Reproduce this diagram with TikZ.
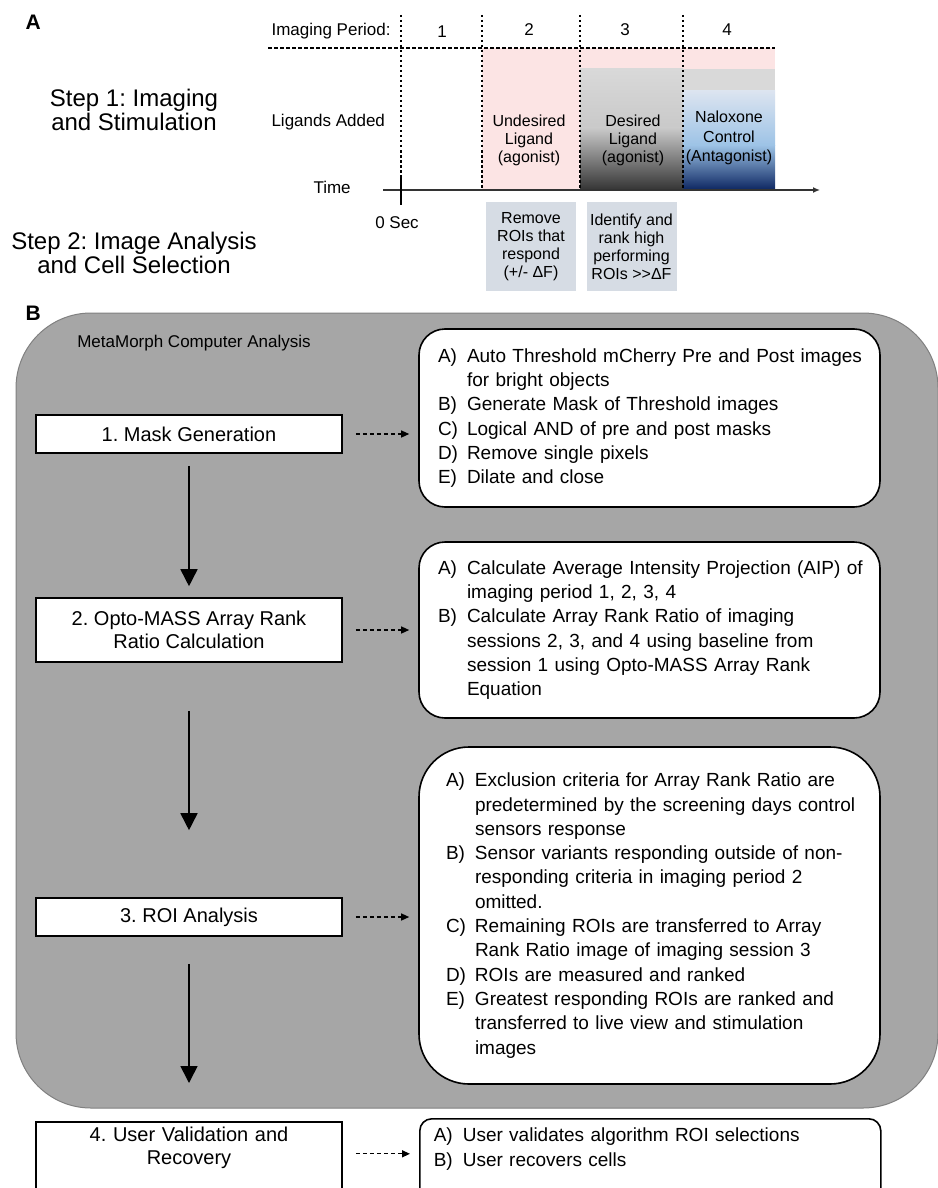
\documentclass[tikz,border=0pt]{standalone}
\usepackage{fontspec}
\setmainfont{Liberation Sans}
\usetikzlibrary{arrows.meta}

\definecolor{pinkfill}{HTML}{FCE4E4}
\definecolor{bandgray}{HTML}{D9D9D9}
\definecolor{lightgray}{HTML}{C9C9C9}
\definecolor{darkgray}{HTML}{333333}
\definecolor{paleblue}{HTML}{DCE4F0}
\definecolor{skyblue}{HTML}{9DC3E6}
\definecolor{navy}{HTML}{0B2460}
\definecolor{roifill}{HTML}{D6DCE4}
\definecolor{panelgray}{HTML}{A6A6A6}

\newcommand{\lbitem}[2]{\mbox{\makebox[29pt][l]{#1}#2}}
\newcommand{\lbcont}[1]{\mbox{\hspace*{29pt}#1}}

\begin{document}
\frenchspacing
\begin{tikzpicture}[x=1pt,y=-1pt,
    bigtxt/.style={font=\fontsize{24}{24.5}\selectfont, align=center},
    medtxt/.style={font=\fontsize{17}{19}\selectfont},
    smtxt/.style={font=\fontsize{16}{18}\selectfont, align=center},
    roibox/.style={smtxt, fill=roifill, minimum width=90pt, minimum height=89pt, inner sep=0pt},
    stepbox/.style={draw, line width=1.6pt, fill=white, minimum width=306pt, align=center,
        font=\fontsize{20}{23}\selectfont},
    notebox/.style={draw, line width=1.6pt, fill=white, minimum width=461pt, align=left,
        font=\fontsize{19}{24.3}\selectfont},
    flowar/.style={-{Triangle[length=17pt,width=17pt]}, line width=1.6pt},
    dashar/.style={-{Triangle[length=8pt,width=7pt]}, line width=1.3pt, dash pattern=on 4pt off 3pt},
    dotline/.style={line width=1.6pt, dash pattern=on 2.5pt off 2.5pt}]
\useasboundingbox (0,0) rectangle (937,1188);
\fill[white] (0,0) rectangle (937,1188);

% panel A: timeline
\node[font=\fontsize{21}{21}\selectfont\bfseries, anchor=base west] (pa) at (22,30) {A};
\fill[pinkfill] (482,48) rectangle (775,190);
\shade[top color=bandgray, bottom color=lightgray] (580,69) rectangle (683,128);
\shade[top color=lightgray, bottom color=darkgray] (580,128) rectangle (683,190.5);
\fill[bandgray] (683,69) rectangle (775,91);
\shade[top color=paleblue, bottom color=skyblue] (683,91) rectangle (775,145);
\shade[top color=skyblue, bottom color=navy] (683,145) rectangle (775,190.5);

\draw[line width=1.5pt, dash pattern=on 3.5pt off 2.5pt] (268,48) -- (775,48);
\draw[dotline] (401,15) -- (401,178);
\foreach \x in {482,580,683}
    \draw[dotline] (\x,15) -- (\x,190);
\draw[-{Latex[length=7pt,width=6pt]}, line width=1.3pt, black!80] (383,190) -- (820,190);
\draw[line width=1.6pt] (401,178) -- (401,205);

\node[medtxt, anchor=base west] (period) at (268,36) {Imaging Period:};
\node[medtxt, anchor=base] (p1) at (442,38) {1};
\node[medtxt, anchor=base] (p2) at (529,36) {2};
\node[medtxt, anchor=base] (p3) at (625,36) {3};
\node[medtxt, anchor=base] (p4) at (727,36) {4};
\node[medtxt, anchor=base west] (ligands) at (268,127) {Ligands Added};
\node[medtxt, anchor=base west] (time) at (310,193) {Time};
\node[medtxt, anchor=base] (zero) at (397,228) {0 Sec};

\node[smtxt] (undes) at (529,140) {Undesired\\Ligand\\(agonist)};
\node[smtxt] (des) at (633,140) {Desired\\Ligand\\(agonist)};
\node[smtxt, font=\fontsize{16}{19.5}\selectfont] (nalox) at (729,138) {Naloxone\\Control\\(Antagonist)};

\node[bigtxt] (step1) at (134,110) {Step 1: Imaging\\and Stimulation};
\node[bigtxt] (step2) at (134,253) {Step 2: Image Analysis\\and Cell Selection};

\node[roibox] (roi1) at (531,246.5) {Remove\\ROIs that\\respond\\(+/- ΔF)};
\node[roibox] (roi2) at (631.5,246.5) {Identify and\\rank high\\performing\\ROIs >{}>ΔF};

% panel B: analysis flow
\node[font=\fontsize{21}{21}\selectfont\bfseries, anchor=base west] (pb) at (22,320) {B};
\draw[fill=panelgray, draw=black!50, line width=1pt, rounded corners=75pt] (16,313) rectangle (938,1108);
\node[font=\fontsize{17}{19}\selectfont, anchor=base] (meta) at (194,347) {MetaMorph Computer Analysis};

\node[stepbox, minimum height=38pt] (m1) at (189,434) {1. Mask Generation};
\node[stepbox, minimum height=64pt] (m2) at (189,630) {2. Opto-MASS Array Rank\\Ratio Calculation};
\node[stepbox, minimum height=38pt] (m3) at (189,917) {3. ROI Analysis};
\node[stepbox, anchor=north, inner xsep=5pt, inner ysep=5pt, text width=296pt,
    text height=15pt, text depth=60pt] (m4) at (189,1121)
    {4. User Validation and\\Recovery};

\node[notebox, rounded corners=26pt, minimum height=178pt, inner xsep=19pt, text width=423pt] (n1) at (649.5,418) {%
\lbitem{A)}{Auto Threshold mCherry Pre and Post images}\\
\lbcont{for bright objects}\\
\lbitem{B)}{Generate Mask of Threshold images}\\
\lbitem{C)}{Logical AND of pre and post masks}\\
\lbitem{D)}{Remove single pixels}\\
\lbitem{E)}{Dilate and close}};

\node[notebox, rounded corners=26pt, minimum height=176pt, inner xsep=19pt, text width=423pt] (n2) at (649.5,630) {%
\lbitem{A)}{Calculate Average Intensity Projection (AIP) of}\\
\lbcont{imaging period 1, 2, 3, 4}\\
\lbitem{B)}{Calculate Array Rank Ratio of imaging}\\
\lbcont{sessions 2, 3, and 4 using baseline from}\\
\lbcont{session 1 using Opto-MASS Array Rank}\\
\lbcont{Equation}};

\node[notebox, rounded corners=50pt, minimum height=337pt, inner xsep=27pt, text width=407pt] (n3) at (649.5,915.5) {%
\lbitem{A)}{Exclusion criteria for Array Rank Ratio are}\\
\lbcont{predetermined by the screening days control}\\
\lbcont{sensors response}\\
\lbitem{B)}{Sensor variants responding outside of non-}\\
\lbcont{responding criteria in imaging period 2}\\
\lbcont{omitted.}\\
\lbitem{C)}{Remaining ROIs are transferred to Array}\\
\lbcont{Rank Ratio image of imaging session 3}\\
\lbitem{D)}{ROIs are measured and ranked}\\
\lbitem{E)}{Greatest responding ROIs are ranked and}\\
\lbcont{transferred to live view and stimulation}\\
\lbcont{images}};

\node[notebox, rounded corners=12pt, anchor=north west, inner xsep=14pt, inner ysep=8pt,
    text width=433pt, text height=15pt, text depth=60pt] (n4) at (419,1118) {%
\lbitem{A)}{User validates algorithm ROI selections}\\
\lbitem{B)}{User recovers cells}};

\draw[flowar, shorten <=12pt, shorten >=11pt] (m1.south) -- (m2.north);
\draw[flowar, shorten <=48pt, shorten >=67pt] (m2.south) -- (m3.north);
\draw[flowar, shorten <=27pt, shorten >=38pt] (m3.south) -- (m4.north);

\coordinate (a4) at ([yshift=-12pt]m4.base east);
\draw[dashar, shorten <=13pt, shorten >=9pt] (m1.east) -- (m1.east -| n1.west);
\draw[dashar, shorten <=13pt, shorten >=9pt] (m2.east) -- (m2.east -| n2.west);
\draw[dashar, shorten <=13pt, shorten >=9pt] (m3.east) -- (m3.east -| n3.west);
\draw[dashar, shorten <=13pt, shorten >=9pt] (a4) -- (a4 -| n4.west);
\end{tikzpicture}
\end{document}
